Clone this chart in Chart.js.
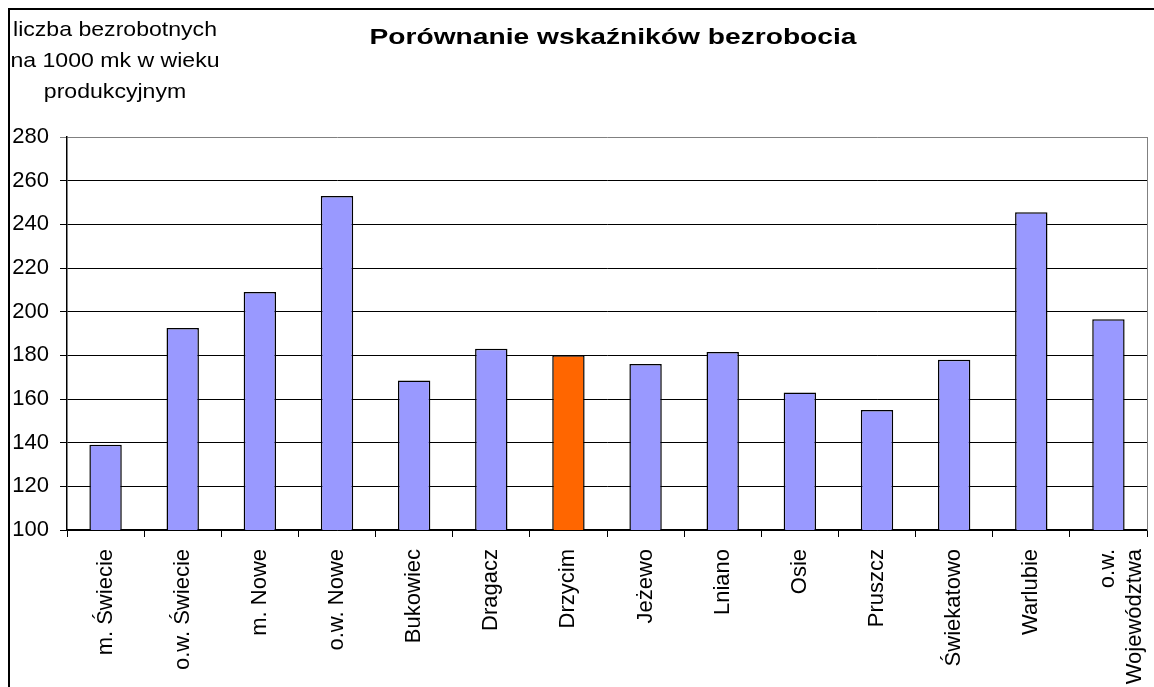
<!DOCTYPE html>
<html>
<head>
<meta charset="utf-8">
<script src="https://cdn.jsdelivr.net/npm/chart.js@4/dist/chart.umd.min.js"></script>
<style>
  html, body { margin: 0; padding: 0; background: #fff; }
  #wrap { position: relative; width: 1154px; height: 687px; }
</style>
</head>
<body>
<div id="wrap"><canvas id="c" width="1154" height="687"></canvas></div>
<script>
const categories = ['m. Świecie', 'o.w. Świecie', 'm. Nowe', 'o.w. Nowe', 'Bukowiec', 'Dragacz', 'Drzycim', 'Jeżewo', 'Lniano', 'Osie', 'Pruszcz', 'Świekatowo', 'Warlubie', ['o.w.', 'Województwa']];
const values = [139, 192.5, 209, 253, 168.5, 183, 180, 176, 181.5, 163, 155, 178, 245.5, 196.5];
const highlighted = 'Drzycim';
const chartTitle = 'Porównanie wskaźników bezrobocia';
const axisCaption = ['liczba bezrobotnych', 'na 1000 mk w wieku', 'produkcyjnym'];
const yMin = 100, yMax = 280, yStep = 20;

const FONT = '"Liberation Sans", Arial, sans-serif';

function stretchedText(ctx, text, cx, cy, sx) {
  ctx.save();
  ctx.translate(cx, cy);
  ctx.scale(sx, 1);
  ctx.fillText(text, 0, 0);
  ctx.restore();
}

const decor = {
  id: 'decor',
  beforeDraw(chart) {
    const ctx = chart.ctx;
    ctx.save();
    ctx.fillStyle = '#fff';
    ctx.fillRect(0, 0, chart.width, chart.height);
    ctx.strokeStyle = '#000';
    ctx.lineWidth = 2;
    ctx.beginPath();
    ctx.moveTo(9, 687);
    ctx.lineTo(9, 9);
    ctx.lineTo(1154, 9);
    ctx.stroke();
    ctx.restore();
  },
  afterDraw(chart) {
    const ctx = chart.ctx;
    const a = chart.chartArea;
    ctx.save();
    ctx.strokeStyle = '#808080';
    ctx.lineWidth = 1;
    ctx.beginPath();
    ctx.moveTo(a.right + 0.5, a.top);
    ctx.lineTo(a.right + 0.5, a.bottom);
    ctx.stroke();
    ctx.fillStyle = '#000';
    ctx.textAlign = 'center';
    ctx.textBaseline = 'middle';
    ctx.font = 'bold 22px ' + FONT;
    const tw = ctx.measureText(chartTitle).width;
    stretchedText(ctx, chartTitle, 613, 38, 487 / tw);
    ctx.font = '21px ' + FONT;
    const cw = ctx.measureText(axisCaption[0]).width;
    const csx = 204 / cw;
    const ys = [30, 61, 92];
    axisCaption.forEach((t, i) => stretchedText(ctx, t, 115, ys[i], csx));
    ctx.restore();
  }
};

new Chart(document.getElementById('c'), {
  type: 'bar',
  data: {
    labels: categories,
    datasets: [{
      data: values,
      backgroundColor: categories.map(c => c === highlighted ? '#FF6600' : '#9999FF'),
      borderColor: '#000',
      borderWidth: 1.5,
      borderSkipped: false,
      barPercentage: 0.42,
      categoryPercentage: 1
    }]
  },
  options: {
    responsive: false,
    animation: false,
    devicePixelRatio: 1,
    layout: { padding: { top: 137, left: 0, right: 7, bottom: 0 } },
    plugins: {
      legend: { display: false },
      title: { display: false },
      tooltip: { enabled: false }
    },
    scales: {
      x: {
        offset: true,
        grid: {
          offset: true,
          drawOnChartArea: false,
          drawTicks: true,
          tickLength: 7,
          color: '#000'
        },
        border: { color: '#000', width: 1.5 },
        ticks: {
          color: '#000',
          font: { family: FONT, size: 22 },
          maxRotation: 90,
          minRotation: 90,
          padding: 12,
          autoSkip: false
        },
        afterFit(scale) { scale.height = 157; scale.paddingLeft = 0; scale.paddingRight = 0; }
      },
      y: {
        min: yMin,
        max: yMax,
        grid: {
          color: ctx => ctx.tick && ctx.tick.value === yMax ? '#808080' : '#000',
          lineWidth: 1,
          tickLength: 7,
          drawTicks: true
        },
        border: { color: '#000', width: 1.5 },
        ticks: {
          stepSize: yStep,
          color: '#000',
          font: { family: FONT, size: 22 },
          padding: 11
        },
        afterFit(scale) { scale.width = 67; scale.paddingTop = 0; scale.paddingBottom = 0; }
      }
    }
  },
  plugins: [decor]
});
</script>
</body>
</html>
